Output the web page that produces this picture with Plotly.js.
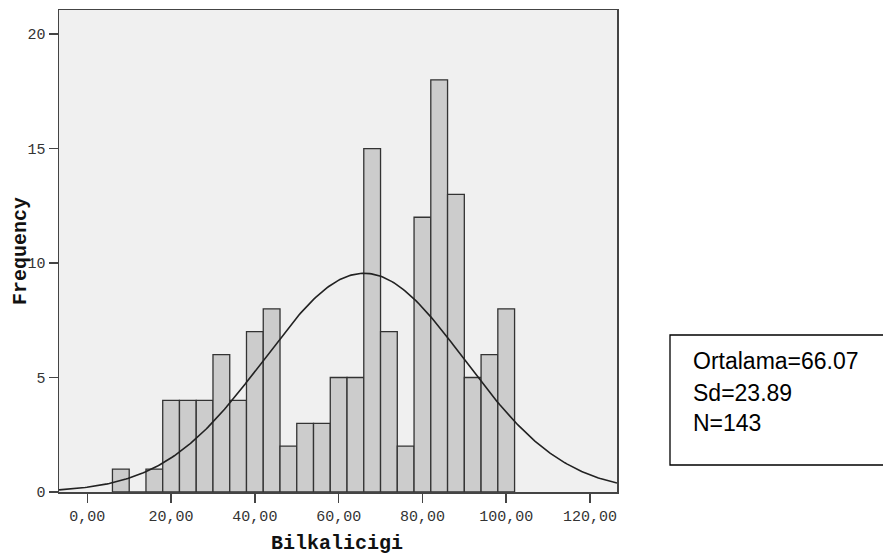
<!DOCTYPE html>
<html>
<head>
<meta charset="utf-8">
<script src="https://cdn.plot.ly/plotly-3.0.1.min.js"></script>
<style>html,body{margin:0;padding:0;background:#fff;}#chart{width:883px;height:555px;}</style>
</head>
<body>
<div id="chart"></div>
<script>
// Histogram bins (bin centers, width 4) and frequencies
const binCenters = [8, 12, 16, 20, 24, 28, 32, 36, 40, 44, 48, 52, 56, 60, 64, 68, 72, 76, 80, 84, 88, 92, 96, 100];
const frequencies = [1, 0, 1, 4, 4, 4, 6, 4, 7, 8, 2, 3, 3, 5, 5, 15, 7, 2, 12, 18, 13, 5, 6, 8];
const binWidth = 4;

// Summary statistics shown in the box
const meanValue = 66.07;
const sdValue = 23.89;
const nValue = 143;
const statLines = ["Ortalama=66.07", "Sd=23.89", "N=143"];

// Axis ticks and titles
const xTickVals = [0, 20, 40, 60, 80, 100, 120];
const xTickText = ["0,00", "20,00", "40,00", "60,00", "80,00", "100,00", "120,00"];
const yTickVals = [0, 5, 10, 15, 20];
const xTitle = "Bilkalicigi";
const yTitle = "Frequency";

const xRange = [-6.76, 126.45];
const yRange = [0, 21.05];

// Fitted normal curve (scaled to histogram counts)
const curveX = [];
const curveY = [];
const steps = 300;
for (let i = 0; i <= steps; i++) {
  const x = xRange[0] + (xRange[1] - xRange[0]) * i / steps;
  const z = (x - meanValue) / sdValue;
  curveX.push(x);
  curveY.push(nValue * binWidth * Math.exp(-0.5 * z * z) / (sdValue * Math.sqrt(2 * Math.PI)));
}

const traces = [
  {
    type: 'bar',
    x: binCenters,
    y: frequencies,
    width: binWidth,
    marker: { color: '#cccccc', line: { color: '#333333', width: 1.3 } },
    hoverinfo: 'x+y',
    showlegend: false
  },
  {
    type: 'scatter',
    mode: 'lines',
    x: curveX,
    y: curveY,
    line: { color: '#222222', width: 1.6 },
    hoverinfo: 'skip',
    showlegend: false
  }
];

const mono = '"Courier New", "Liberation Mono", monospace';
const plotL = 59, plotR = 617, plotT = 10, plotB = 492;
const pw = plotR - plotL, ph = plotB - plotT;
function px2paperX(px) { return (px - plotL) / pw; }
function px2paperY(py) { return (plotB - py) / ph; }

const lineCenters = [361, 393, 423];
const annotations = statLines.map((t, i) => ({
  xref: 'paper', yref: 'paper',
  x: px2paperX(691), y: px2paperY(lineCenters[i]),
  xanchor: 'left', yanchor: 'middle',
  text: t, showarrow: false,
  font: { family: 'Arial, "Liberation Sans", sans-serif', size: 23, color: '#000' }
}));
annotations.push({
  xref: 'paper', yref: 'paper',
  x: px2paperX(337), y: px2paperY(543),
  xanchor: 'center', yanchor: 'middle',
  text: '<b>' + xTitle + '</b>', showarrow: false,
  font: { family: mono, size: 20, color: '#111' }
});
annotations.push({
  xref: 'paper', yref: 'paper',
  x: px2paperX(20), y: px2paperY(251),
  xanchor: 'center', yanchor: 'middle', textangle: -90,
  text: '<b>' + yTitle + '</b>', showarrow: false,
  font: { family: mono, size: 20, color: '#111' }
});

const layout = {
  width: 883, height: 555,
  margin: { l: plotL, r: 883 - plotR, t: plotT, b: 555 - plotB },
  paper_bgcolor: '#ffffff',
  plot_bgcolor: '#f0f0f0',
  bargap: 0,
  xaxis: {
    range: xRange,
    tickvals: xTickVals, ticktext: xTickText,
    ticks: 'outside', ticklen: 9, tickwidth: 1.5, tickcolor: '#444',
    showline: true, mirror: true, linecolor: '#444', linewidth: 1.5,
    showgrid: false, zeroline: false,
    tickfont: { family: mono, size: 15, color: '#333' },
    automargin: false
  },
  yaxis: {
    range: yRange,
    tickvals: yTickVals,
    ticks: 'outside', ticklen: 9, tickwidth: 1.5, tickcolor: '#444',
    showline: true, mirror: true, linecolor: '#444', linewidth: 1.5,
    showgrid: false, zeroline: false,
    tickfont: { family: mono, size: 15, color: '#333' },
    automargin: false
  },
  shapes: [{
    type: 'rect', xref: 'paper', yref: 'paper',
    x0: px2paperX(670), x1: px2paperX(886),
    y0: px2paperY(465), y1: px2paperY(335),
    line: { color: '#000', width: 1.3 }, fillcolor: 'rgba(0,0,0,0)'
  }],
  annotations: annotations
};

Plotly.newPlot('chart', traces, layout, { displayModeBar: false, staticPlot: true });
</script>
</body>
</html>
